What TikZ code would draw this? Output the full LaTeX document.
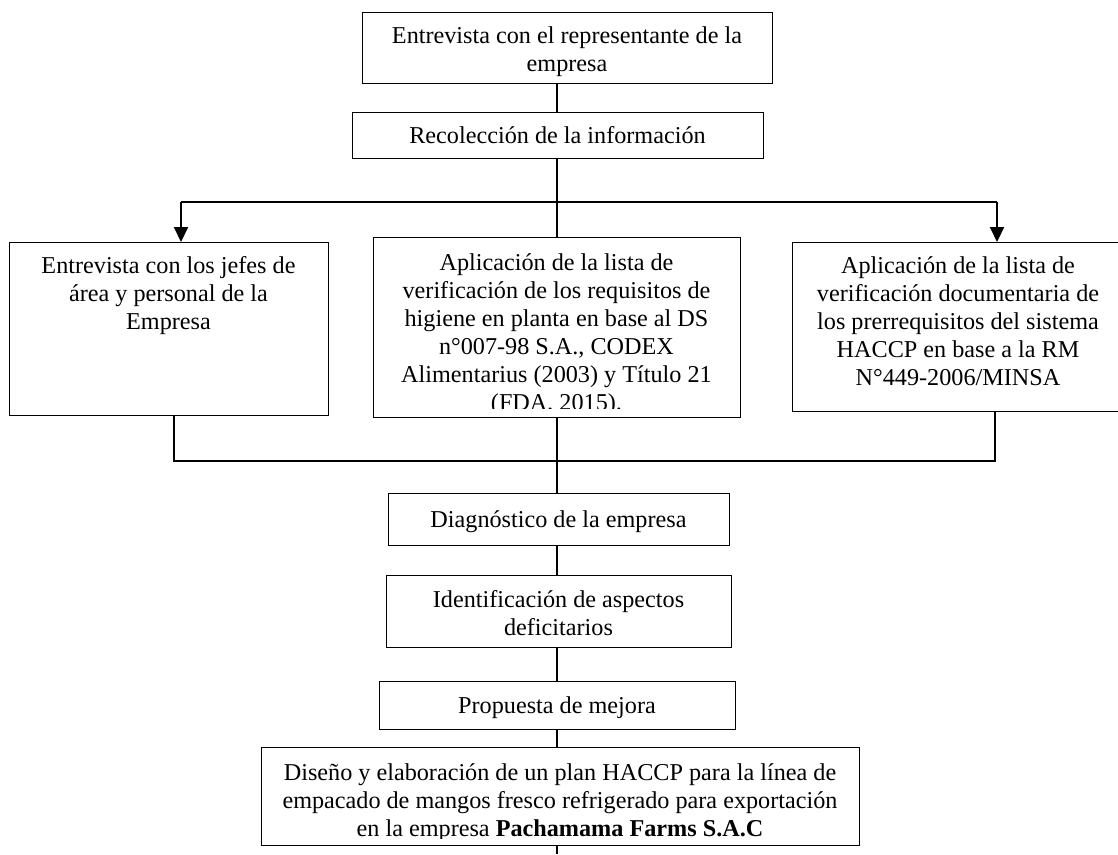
\documentclass[tikz,border=0pt]{standalone}
\usepackage{fontspec}
\setmainfont{Liberation Serif}
\usetikzlibrary{arrows.meta,calc}
% centred block of lines; its baseline is the first line's baseline
\newcommand{\boxtext}[1]{\parbox[t]{700pt}{\centering #1}}
\begin{document}
\begin{tikzpicture}[x=1pt,y=-1pt,
  box/.style={draw, line width=1pt, inner sep=0pt, anchor=north west},
  txt/.style={anchor=base, inner sep=0pt, font=\fontsize{24.2}{28}\selectfont},
  link/.style={line width=2pt},
  arr/.style={line width=2pt, -{Triangle[length=15pt,width=14pt]}}]
\useasboundingbox (0,0) rectangle (1118,854);

% boxes
\node[box, minimum width=410pt, minimum height=71pt]  (top)   at (362,12)  {};
\node[box, minimum width=411pt, minimum height=46pt]  (rec)   at (352,112) {};
\node[box, minimum width=319pt, minimum height=173pt] (left)  at (9,242)   {};
\node[box, minimum width=367pt, minimum height=180pt] (mid)   at (373,237) {};
\node[box, minimum width=332pt, minimum height=169pt] (right) at (792,242) {};
\node[box, minimum width=341pt, minimum height=52pt]  (diag)  at (388,493) {};
\node[box, minimum width=345pt, minimum height=72pt]  (ident) at (386,575) {};
\node[box, minimum width=356pt, minimum height=48pt]  (prop)  at (379,681) {};
\node[box, minimum width=598pt, minimum height=98pt]  (last)  at (261,747) {};

% texts
\node[txt] (tTop) at (567,43) {\boxtext{Entrevista con el representante de la\\ empresa}};
\node[txt] (tRec) at (557.5,143) {\boxtext{Recolección de la información}};
\node[txt] (tLeft) at (168.5,273) {\boxtext{Entrevista con los jefes de\\ área y personal de la\\ Empresa}};
\begin{scope}
  \clip (mid.north west) rectangle ($(mid.south east)+(0,-10)$);
  \node[txt] (tMid) at (556.5,270) {\boxtext{Aplicación de la lista de\\ verificación de los requisitos de\\ higiene en planta en base al DS\\ n°007-98 S.A., CODEX\\ Alimentarius (2003) y Título 21\\ (FDA, 2015).}};
\end{scope}
\node[txt] (tRight) at (958,273) {\boxtext{Aplicación de la lista de\\ verificación documentaria de\\ los prerrequisitos del sistema\\ HACCP en base a la RM\\ N°449-2006/MINSA}};
\node[txt] (tDiag) at (558.5,527) {\boxtext{Diagnóstico de la empresa}};
\node[txt] (tIdent) at (558.5,607) {\boxtext{Identificación de aspectos\\ deficitarios}};
\node[txt] (tProp) at (557,713) {\boxtext{Propuesta de mejora}};
\begin{scope}
  \clip (last.north west) rectangle ($(last.south east)+(0,-8)$);
  \node[txt] (tLast) at (560,780) {\boxtext{Diseño y elaboración de un plan HACCP para la línea de\\ empacado de mangos fresco refrigerado para exportación\\ en la empresa \textbf{Pachamama Farms S.A.C}}};
\end{scope}

% connectors
\coordinate (axis) at (557,0);
\coordinate (jL) at (181,202);
\coordinate (jR) at (997,202);
\coordinate (mL) at (174,461);
\coordinate (mR) at (995,461);
\coordinate (out) at (557,854);

\draw[link] (axis |- top.south) -- (axis |- rec.north);
\draw[link] (axis |- rec.south) -- (axis |- mid.north);
\draw[link] (jL) -- (jR);
\draw[arr] (jL) -- (jL |- left.north);
\draw[arr] (jR) -- (jR |- right.north);
\draw[link] (mL |- left.south) -- (mL) -- (mR) -- (mR |- right.south);
\draw[link] (axis |- mid.south) -- (axis |- diag.north);
\draw[link] (axis |- diag.south) -- (axis |- ident.north);
\draw[link] (axis |- ident.south) -- (axis |- prop.north);
\draw[link] (axis |- prop.south) -- (axis |- last.north);
\draw[link] (axis |- last.south) -- (out);
\end{tikzpicture}
\end{document}
